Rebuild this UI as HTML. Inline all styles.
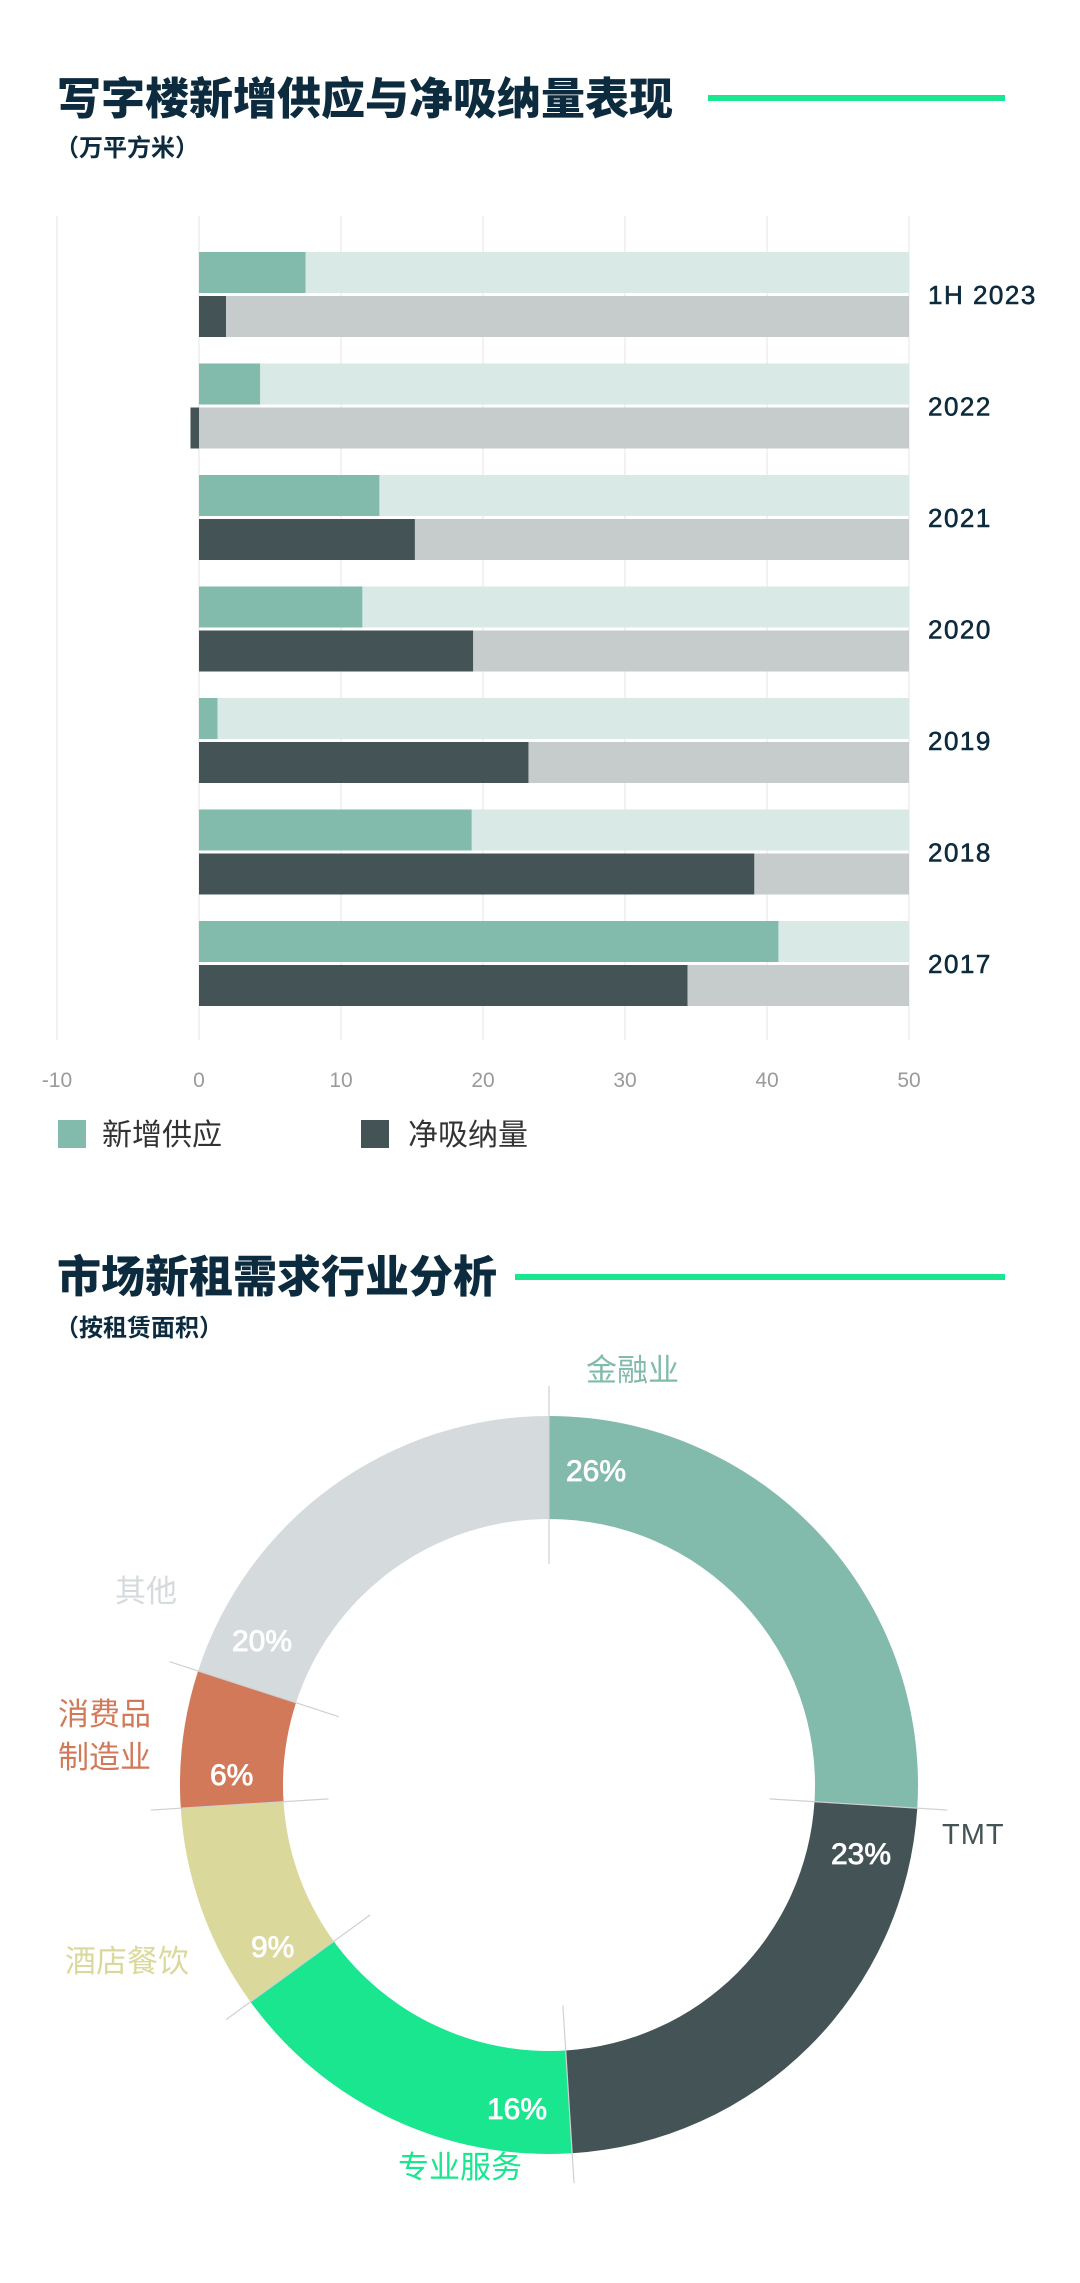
<!DOCTYPE html>
<html><head><meta charset="utf-8"><style>
html,body{margin:0;padding:0;background:#fff}
svg{display:block}
text{font-family:"Liberation Sans","Noto Sans CJK SC",sans-serif}
</style></head><body>
<svg id="s" width="1080" height="2283" viewBox="0 0 1080 2283" xmlns="http://www.w3.org/2000/svg">
<text x="57" y="114" font-size="44" font-weight="900" fill="#0d2b3e">写字楼新增供应与净吸纳量表现</text>
<rect x="708" y="95" width="297" height="6" fill="#19e68f"/>
<text x="55" y="156" font-size="24" font-weight="700" fill="#0d2b3e">（万平方米）</text>
<g id="bars"></g>
<g>
<rect x="58" y="1120" width="28" height="28" fill="#82bbab"/>
<text x="102" y="1145" font-size="30" fill="#333">新增供应</text>
<rect x="361" y="1120" width="28" height="28" fill="#445356"/>
<text x="408" y="1145" font-size="30" fill="#333">净吸纳量</text>
</g>
<text x="57" y="1292" font-size="44" font-weight="900" fill="#0d2b3e">市场新租需求行业分析</text>
<rect x="515" y="1274" width="490" height="6" fill="#19e68f"/>
<text x="55" y="1336" font-size="24" font-weight="700" fill="#0d2b3e">（按租赁面积）</text>
<g id="donut"></g>
</svg>
<script>
const NS="http://www.w3.org/2000/svg";
const years=["1H 2023","2022","2021","2020","2019","2018","2017"];
const supply=[7.5,4.3,12.7,11.5,1.3,19.2,40.8];
const absorption=[1.9,-0.6,15.2,19.3,23.2,39.1,34.4];
const xTicks=[-10,0,10,20,30,40,50];
const xMax=50;
const industries=["金融业","TMT","专业服务","酒店餐饮","消费品制造业","其他"];
const shares=[26,23,16,9,6,20];
const shareColors=["#82bbab","#445356","#19e68f","#dbd89c","#d27959","#d5dadd"];

function mk(tag,attrs,parent){const e=document.createElementNS(NS,tag);for(const k in attrs)e.setAttribute(k,attrs[k]);parent.appendChild(e);return e;}
const X=v=>199+v*14.2;
const bars=document.getElementById('bars');
xTicks.forEach(t=>{
  const l=mk('line',{x1:X(t),x2:X(t),y1:216,y2:1040,stroke:'#eeeeee','stroke-width':1.5},bars);
  
  
  const tx=mk('text',{x:X(t),y:1087,'font-size':21,fill:'#9a9a9a','text-anchor':'middle'},bars);
  tx.textContent=t;
  
  
});
years.forEach((y,i)=>{
  const top=252+i*111.5;
  const b1=mk('rect',{x:X(0),y:top,width:X(xMax)-X(0),height:41,fill:'#d9e9e5'},bars);
  
  
  const b2=mk('rect',{x:X(0),y:top+44,width:X(xMax)-X(0),height:41,fill:'#c6cbcb'},bars);
  
  
  const s=supply[i];
  const r1=mk('rect',{x:Math.min(X(0),X(s)),y:top,width:Math.abs(X(s)-X(0)),height:41,fill:'#82bbab'},bars);
  
  
  const a=absorption[i];
  const r2=mk('rect',{x:Math.min(X(0),X(a)),y:top+44,width:Math.abs(X(a)-X(0)),height:41,fill:'#445356'},bars);
  
  
  const lb=mk('text',{x:928,y:top+52,'font-size':26,'font-weight':400,fill:'#0d2b3e','stroke':'#0d2b3e','stroke-width':0.6,'letter-spacing':1.5},bars);
  lb.textContent=y;
  
  
});

const donut=document.getElementById('donut');
const cx=549,cy=1785,R=369,r=266;
const total=shares.reduce((a,b)=>a+b,0);
let acc=0;
const pt=(ang,rad)=>[cx+rad*Math.sin(ang),cy-rad*Math.cos(ang)];
const bounds=[];
shares.forEach((v,i)=>{
  const a0=acc/total*2*Math.PI; acc+=v; const a1=acc/total*2*Math.PI;
  bounds.push(a0);
  const large=(a1-a0)>Math.PI?1:0;
  const p0=pt(a0,R),p1=pt(a1,R),q1=pt(a1,r),q0=pt(a0,r);
  const d=`M${p0[0]},${p0[1]} A${R},${R} 0 ${large} 1 ${p1[0]},${p1[1]} L${q1[0]},${q1[1]} A${r},${r} 0 ${large} 0 ${q0[0]},${q0[1]} Z`;
  const p=mk('path',{d:d,fill:shareColors[i]},donut);
  
  
});
bounds.forEach(a=>{
  const u=pt(a,r-45),w=pt(a,R+30);
  const l=mk('line',{x1:u[0],y1:u[1],x2:w[0],y2:w[1],stroke:'#d0d0d0','stroke-width':1.2},donut);
  
  
});
const pctPos=[[566,1481],[831,1864],[487,2119],[251,1957],[210,1785],[232,1651]];
const namePos=[[586,1381,'start'],[942,1844,'start'],[398,2178,'start'],[65,1972,'start'],[58,1725,'start'],[115,1602,'start']];
shares.forEach((v,i)=>{
  const t=mk('text',{x:pctPos[i][0],y:pctPos[i][1],'font-size':30,'font-weight':400,fill:'#ffffff',stroke:'#ffffff','stroke-width':0.8},donut);
  t.textContent=v+'%';
  
  
  const col=i==1?'#445356':shareColors[i];
  const n=industries[i];
  if(n.length>5){
    const t1=mk('text',{x:namePos[i][0],y:namePos[i][1],'font-size':31,fill:col},donut);
    t1.textContent=n.slice(0,3);
    
    
    const t2=mk('text',{x:namePos[i][0],y:namePos[i][1]+43,'font-size':31,fill:col},donut);
    t2.textContent=n.slice(3);
    
    
  } else {
    const t1=mk('text',{x:namePos[i][0],y:namePos[i][1],'font-size':i==1?29:31,fill:col,'letter-spacing':i==1?1:0},donut);
    t1.textContent=n;
    
    
  }
});
</script>
</body></html>
